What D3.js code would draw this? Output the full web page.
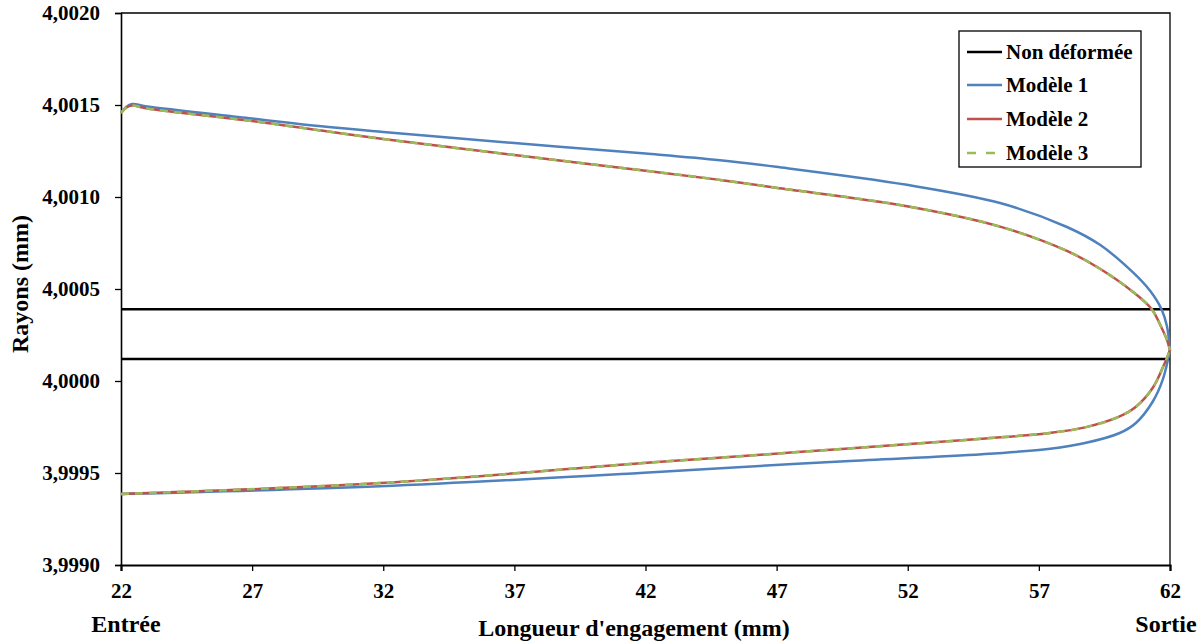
<!DOCTYPE html>
<html>
<head>
<meta charset="utf-8">
<script src="https://cdn.jsdelivr.net/npm/d3@7"></script>
<style>
  html, body { margin: 0; padding: 0; background: #fff; }
  svg { display: block; }
  text { font-family: "Liberation Serif", "Times New Roman", "DejaVu Serif", serif; font-weight: bold; fill: #000; }
</style>
</head>
<body>
<svg id="chart" width="1203" height="644"></svg>
<script>
// ---- Data ----
const xTicks = [22, 27, 32, 37, 42, 47, 52, 57, 62];
const yTicks = [3.9990, 3.9995, 4.0000, 4.0005, 4.0010, 4.0015, 4.0020];
const legendLabels = ["Non déformée", "Modèle 1", "Modèle 2", "Modèle 3"];

const nonDeformeeHaut = [[22, 4.00039], [62, 4.00039]];
const nonDeformeeBas  = [[22, 4.00012], [62, 4.00012]];

const modele1Haut = [[22.0,4.001457],[22.2,4.001489],[22.42,4.001505],[23.0,4.001492],[27.0,4.001427],[29.64,4.001384],[32.0,4.001353],[37.0,4.001293],[42.0,4.001236],[44.84,4.001200],[46.98,4.001164],[51.97,4.001066],[55.52,4.000967],[58.07,4.000837],[59.33,4.000740],[60.59,4.000590],[61.24,4.000490],[61.68,4.000389],[61.88,4.000300],[62.0,4.000168]];
const modele1Bas = [[22.0,3.999386],[31.88,3.999428],[41.79,3.999500],[44.38,3.999522],[49.61,3.999564],[54.83,3.999602],[57.43,3.999632],[58.76,3.999663],[60.06,3.999716],[60.70,3.999772],[61.35,3.999890],[61.73,4.000010],[62.0,4.000168]];

const modele2Haut = [[22.0,4.001457],[22.2,4.001486],[22.42,4.001497],[23.0,4.001481],[27.0,4.001413],[29.64,4.001361],[32.0,4.001315],[37.0,4.001228],[42.0,4.001143],[44.84,4.001093],[46.98,4.001050],[51.97,4.000950],[55.52,4.000839],[58.07,4.000707],[59.33,4.000610],[60.59,4.000484],[61.31,4.000389],[61.66,4.000295],[61.88,4.000225],[62.0,4.000168]];
const modele2Bas = [[22.0,3.999386],[31.88,3.999445],[41.79,3.999553],[44.38,3.999579],[49.61,3.999632],[54.83,3.999686],[57.43,3.999718],[58.76,3.999748],[60.06,3.999806],[60.70,3.999860],[61.35,3.999965],[61.73,4.000075],[62.0,4.000168]];

const modele3Haut = [[22.0,4.001457],[22.2,4.001486],[22.42,4.001497],[23.0,4.001481],[27.0,4.001413],[29.64,4.001361],[32.0,4.001315],[37.0,4.001228],[42.0,4.001143],[44.84,4.001093],[46.98,4.001050],[51.97,4.000950],[55.52,4.000839],[58.07,4.000707],[59.33,4.000610],[60.59,4.000484],[61.31,4.000389],[61.66,4.000295],[61.88,4.000225],[62.0,4.000168]];
const modele3Bas = [[22.0,3.999386],[31.88,3.999445],[41.79,3.999553],[44.38,3.999579],[49.61,3.999632],[54.83,3.999686],[57.43,3.999718],[58.76,3.999748],[60.06,3.999806],[60.70,3.999860],[61.35,3.999965],[61.73,4.000075],[62.0,4.000168]];

// ---- Layout ----
const svg = d3.select("#chart");
const L = 121, R = 1170, T = 13, B = 565;
const x = d3.scaleLinear().domain([22, 62]).range([L, R]);
const y = d3.scaleLinear().domain([3.9990, 4.0020]).range([B, T]);

const fr = d3.formatLocale({decimal: ",", thousands: " ", grouping: [3], currency: ["", "€"]});
const fmtY = fr.format(".4f");
const FONT = "'Liberation Serif', 'Times New Roman', 'DejaVu Serif', serif";

// frame (top & right)
svg.append("path")
  .attr("d", `M${L},${T}H${R}V${B}`)
  .attr("fill", "none").attr("stroke", "#000").attr("stroke-width", 1.3);

// axes
const xAxis = d3.axisBottom(x).tickValues(xTicks).tickSize(6).tickPadding(11).tickFormat(d3.format("d"));
const gx = svg.append("g").attr("transform", `translate(0,${B})`).call(xAxis).attr("font-family", null);
gx.select(".domain").attr("stroke-width", 2.2);
gx.selectAll(".tick line").attr("stroke-width", 1.3);
gx.selectAll("text").style("font-size", "21px").style("font-family", FONT).style("font-weight", "bold").attr("dy", "0.75em");

const yAxis = d3.axisLeft(y).tickValues(yTicks).tickSize(6).tickPadding(15).tickFormat(fmtY);
const gy = svg.append("g").attr("transform", `translate(${L},0)`).call(yAxis).attr("font-family", null);
gy.select(".domain").attr("stroke-width", 1.6);
gy.selectAll(".tick line").attr("stroke-width", 1.3);
gy.selectAll("text").style("font-size", "21px").style("font-family", FONT).style("font-weight", "bold");

// lines
const line = d3.line().x(d => x(d[0])).y(d => y(d[1])).curve(d3.curveCatmullRom.alpha(0.5));
const plot = svg.append("g");

[nonDeformeeHaut, nonDeformeeBas].forEach(s =>
  plot.append("path").datum(s).attr("d", line).attr("fill", "none").attr("stroke", "#000").attr("stroke-width", 2.5));
[modele1Haut, modele1Bas].forEach(s =>
  plot.append("path").datum(s).attr("d", line).attr("fill", "none").attr("stroke", "#4F81BD").attr("stroke-width", 2.5));
[modele2Haut, modele2Bas].forEach(s =>
  plot.append("path").datum(s).attr("d", line).attr("fill", "none").attr("stroke", "#C0504D").attr("stroke-width", 2.5));
[modele3Haut, modele3Bas].forEach(s =>
  plot.append("path").datum(s).attr("d", line).attr("fill", "none").attr("stroke", "#9BBB59").attr("stroke-width", 2.5).attr("stroke-dasharray", "8,6"));

// axis titles
svg.append("text").attr("x", 634).attr("y", 636).attr("text-anchor", "middle")
  .style("font-size", "24px").text("Longueur d'engagement (mm)");
svg.append("text").attr("transform", "translate(28,284) rotate(-90)").attr("text-anchor", "middle")
  .style("font-size", "24px").text("Rayons (mm)");
svg.append("text").attr("x", 126).attr("y", 632).attr("text-anchor", "middle")
  .style("font-size", "24px").text("Entrée");
svg.append("text").attr("x", 1166).attr("y", 632).attr("text-anchor", "middle")
  .style("font-size", "24px").text("Sortie");

// legend
const legColors = ["#000", "#4F81BD", "#C0504D", "#9BBB59"];
const legDash = [null, null, null, "9,10"];
const legY = [52, 85, 119, 153];
const lg = svg.append("g");
lg.append("rect").attr("x", 959).attr("y", 31).attr("width", 182).attr("height", 136)
  .attr("fill", "#fff").attr("stroke", "#000").attr("stroke-width", 1.3);
legendLabels.forEach((lab, i) => {
  lg.append("line").attr("x1", 967).attr("x2", 1002).attr("y1", legY[i]).attr("y2", legY[i])
    .attr("stroke", legColors[i]).attr("stroke-width", 2.5).attr("stroke-dasharray", legDash[i]);
  lg.append("text").attr("x", 1006).attr("y", legY[i] + 7).style("font-size", "21px").text(lab);
});
</script>
</body>
</html>
